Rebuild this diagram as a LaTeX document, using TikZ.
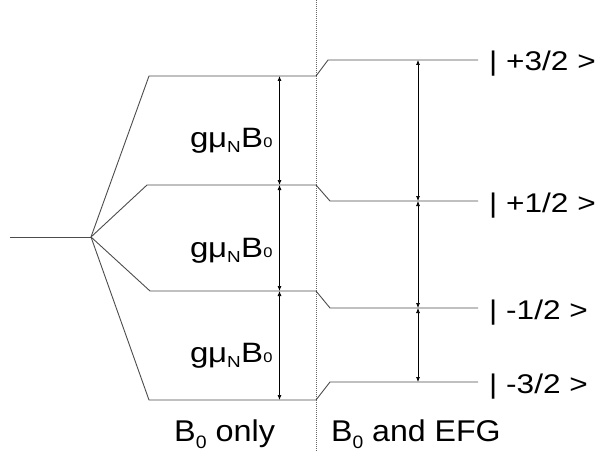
\documentclass[tikz,border=0pt]{standalone}
\usepackage{graphicx}
\usepackage{fontspec}
\setmainfont{Liberation Sans}
\usetikzlibrary{arrows.meta}
\begin{document}
\begin{tikzpicture}[x=1pt,y=-1pt,
  level/.style={draw=black!70, line width=0.9pt, line join=round},
  gap/.style={{Latex[length=5pt,width=4pt]}-{Latex[length=5pt,width=4pt]}, line width=0.7pt, black},
  divider/.style={draw=black!60, line width=0.8pt, dash pattern=on 1pt off 1pt},
  ket/.style={anchor=base west, inner sep=0pt, font=\fontsize{27}{30}\selectfont},
  glab/.style={anchor=base west, inner sep=0pt, font=\fontsize{28}{32}\selectfont},
  blab/.style={anchor=base west, inner sep=0pt, font=\fontsize{30}{34}\selectfont}]
\useasboundingbox (0,0) rectangle (598,452);
% coordinates
\coordinate (s0) at (10,237);
\coordinate (sp) at (91,237);
\coordinate (a1) at (149,76);  \coordinate (a2) at (316,76);  \coordinate (a3) at (328,60);  \coordinate (a4) at (478,60);
\coordinate (b1) at (147,185); \coordinate (b2) at (316,185); \coordinate (b3) at (330,201); \coordinate (b4) at (478,201);
\coordinate (c1) at (150,291); \coordinate (c2) at (316,291); \coordinate (c3) at (330,308); \coordinate (c4) at (478,308);
\coordinate (d1) at (149,400); \coordinate (d2) at (316,400); \coordinate (d3) at (330,382); \coordinate (d4) at (478,382);
\coordinate (top) at (316,0);
\coordinate (bot) at (316,452);
% divider
\draw[divider] (top) -- (bot);
% levels
\draw[level] (s0) -- (sp);
\draw[level] (sp) -- (a1) -- (a2) -- (a3) -- (a4);
\draw[level] (sp) -- (b1) -- (b2) -- (b3) -- (b4);
\draw[level] (sp) -- (c1) -- (c2) -- (c3) -- (c4);
\draw[level] (sp) -- (d1) -- (d2) -- (d3) -- (d4);
% left gaps
\coordinate (la) at (279.5,76);  \coordinate (lb) at (279.5,185);
\coordinate (lc) at (279.5,291); \coordinate (ld) at (279.5,400);
\draw[gap] (la) -- (lb);
\draw[gap] (lb) -- (lc);
\draw[gap] (lc) -- (ld);
% right gaps
\coordinate (ra) at (418,60);  \coordinate (rb) at (418,201);
\coordinate (rc) at (418,308); \coordinate (rd) at (418,382);
\draw[gap] (ra) -- (rb);
\draw[gap] (rb) -- (rc);
\draw[gap] (rc) -- (rd);
% g mu_N B_0 labels
\newcommand{\gmu}{\scalebox{1.18}[1]{g\kern-0.5pt μ\raisebox{-5pt}{\fontsize{16}{18}\selectfont N}\kern0.5pt B\raisebox{0pt}{\fontsize{14}{15}\selectfont 0}}}
\node[glab] (g1) at (190,148) {\gmu};
\node[glab] (g2) at (190,257) {\gmu};
\node[glab] (g3) at (190,362) {\gmu};
% kets
\newcommand{\ketlab}[1]{\scalebox{1.17}[1]{| #1 >}}
\node[ket] (k1) at (489,70.5) {\ketlab{+3/2}};
\node[ket] (k2) at (489,212.5) {\ketlab{+1/2}};
\node[ket] (k3) at (489,319) {\ketlab{-1/2}};
\node[ket] (k4) at (489,393) {\ketlab{-3/2}};
% bottom labels
\newcommand{\bzero}{B\raisebox{-7pt}{\fontsize{18}{20}\selectfont 0}}
\node[blab] (o1) at (174,441) {\scalebox{1.08}[1]{\bzero{} only}};
\node[blab] (o2) at (331,441) {\scalebox{1.07}[1]{\bzero{} and EFG}};
\end{tikzpicture}
\end{document}
